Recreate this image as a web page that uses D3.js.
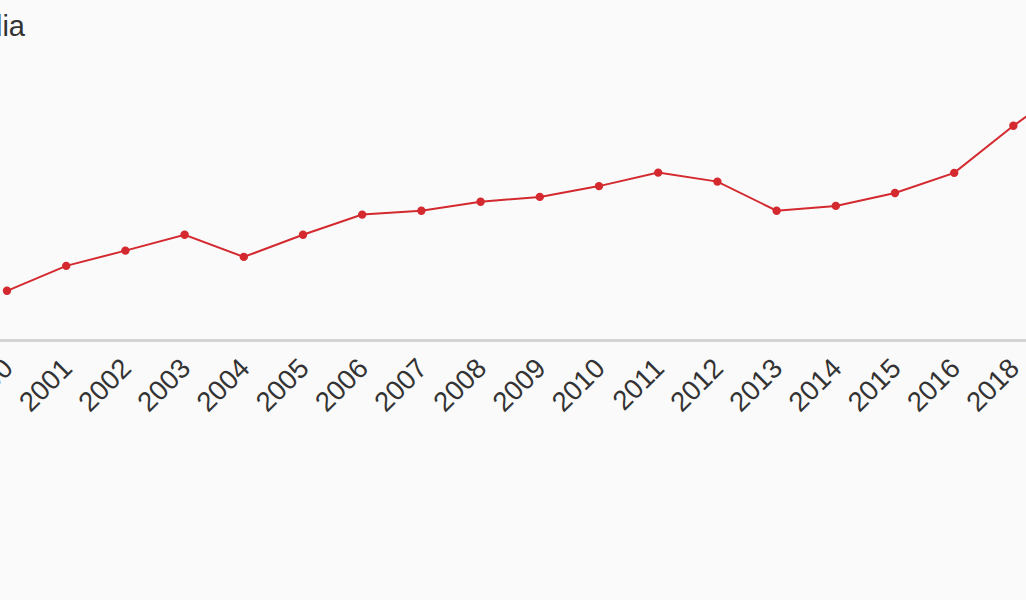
<!DOCTYPE html>
<html>
<head>
<meta charset="utf-8">
<script src="https://cdn.jsdelivr.net/npm/d3@7"></script>
<style>
  html, body { margin: 0; padding: 0; background: #fafafa; overflow: hidden; }
  svg { display: block; font-family: "Liberation Sans", Arial, sans-serif; }
</style>
</head>
<body>
<div id="chart"></div>
<script>
// title of the chart (left part is cut off in the reference view)
const title = "India"

// years shown on the x axis (2017 is missing in the source)
const years = ["2000", "2001", "2002", "2003", "2004", "2005", "2006", "2007", "2008",
  "2009", "2010", "2011", "2012", "2013", "2014", "2015", "2016", "2018", "2019"]

// series values (relative units)
const values = [16.4, 24.7, 29.8, 35.1, 27.7, 35.1, 41.8, 43.1, 46.1,
  47.7, 51.3, 55.8, 52.8, 43.1, 44.7, 49.0, 55.7, 71.4, 85.7]

const width = 1026
const height = 600
const color = "#d3292f"

const svg = d3.select("#chart").append("svg")
  .attr("width", width)
  .attr("height", height)

svg.append("rect")
  .attr("width", width)
  .attr("height", height)
  .attr("fill", "#fafafa")

// the plot is wider than the window, so it runs past both edges
const x = d3.scalePoint()
  .domain(years)
  .range([-22.6, 1102.2])
  .padding(0.5)

const y = d3.scaleLinear()
  .domain([0, 100])
  .range([340, 40])

const data = years.map((yr, i) => ({ year: yr, value: values[i] }))

svg.append("text")
  .attr("x", 25)
  .attr("y", 36)
  .attr("text-anchor", "end")
  .attr("fill", "#333")
  .style("font-size", "29px")
  .text(title)

const axis = svg.append("g")
  .attr("transform", "translate(0,340)")
  .call(d3.axisBottom(x).tickSize(0))

axis.select(".domain")
  .attr("stroke", "#d4d4d4")
  .attr("stroke-width", 3)

axis.selectAll(".tick text")
  .attr("x", 0)
  .attr("y", 0)
  .attr("dy", 0)
  .attr("transform", "translate(7,30) rotate(-45)")
  .style("text-anchor", "end")
  .style("font-size", "27.5px")
  .style("font-family", "'Liberation Sans', Arial, sans-serif")
  .attr("fill", "#333")

const line = d3.line()
  .x(d => x(d.year))
  .y(d => y(d.value))

svg.append("path")
  .datum(data)
  .attr("d", line)
  .attr("fill", "none")
  .attr("stroke", color)
  .attr("stroke-width", 2)

svg.selectAll(".dot")
  .data(data)
  .join("circle")
  .attr("class", "dot")
  .attr("cx", d => x(d.year))
  .attr("cy", d => y(d.value))
  .attr("r", 4.2)
  .attr("fill", color)
</script>
</body>
</html>
